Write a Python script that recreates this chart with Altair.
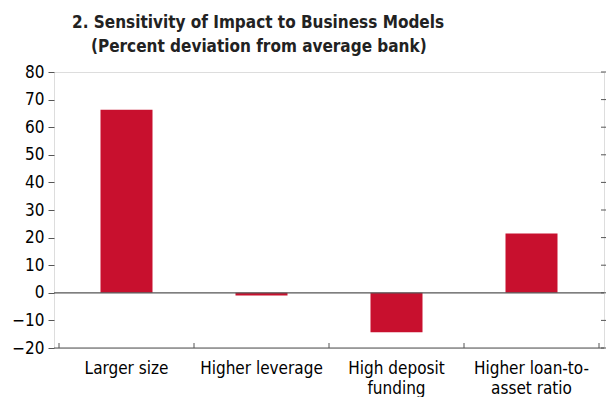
import altair as alt
import pandas as pd

categories = ["Larger size", "Higher leverage", "High deposit\nfunding", "Higher loan-to-\nasset ratio"]
values = [66.3, -1.0, -14.3, 21.5]
y_ticks = [-20, -10, 0, 10, 20, 30, 40, 50, 60, 70, 80]
boundaries = [0, 1, 2, 3, 4]
title_lines = ["2. Sensitivity of Impact to Business Models",
               "(Percent deviation from average bank)"]

FONT = "DejaVu Sans Condensed"
RED = "#C8102E"
GRAY = "#555555"
W, H = 550, 276

bars_df = pd.DataFrame({"pos": [i + 0.5 for i in range(len(categories))],
                        "cat": categories, "value": values})
bnd_df = pd.DataFrame({"b": boundaries})
ytick_df = pd.DataFrame({"t": y_ticks})

xscale = alt.Scale(domain=[0, 4], nice=False, zero=False)
yscale = alt.Scale(domain=[-20, 80], nice=False)
yaxis = alt.Axis(values=y_ticks, title=None, domain=False, grid=False,
                 labelOverlap=False, labelFlush=False,
                 tickSize=6, tickColor=GRAY, labelFontSize=17,
                 labelFont=FONT, labelColor="black", labelPadding=4)

bars = alt.Chart(bars_df).mark_bar(color=RED, size=52).encode(
    x=alt.X("pos:Q", scale=xscale, axis=None),
    y=alt.Y("value:Q", scale=yscale, axis=yaxis, title=None),
)

zero = alt.Chart(pd.DataFrame({"z": [0]})).mark_rule(color=GRAY, strokeWidth=1.2).encode(
    y=alt.Y("z:Q", scale=yscale, axis=yaxis, title=None), x=alt.value(0), x2=alt.value(W))

bottom = alt.Chart(pd.DataFrame({"z": [-20]})).mark_rule(color=GRAY, strokeWidth=1.2).encode(
    y=alt.Y("z:Q", scale=yscale, axis=yaxis, title=None), x=alt.value(0), x2=alt.value(W))

xticks = alt.Chart(bnd_df).mark_rule(color=GRAY, strokeWidth=1).encode(
    x=alt.X("b:Q", scale=xscale, axis=None), y=alt.value(H), y2=alt.value(H - 5))

rticks = alt.Chart(ytick_df).mark_rule(color=GRAY, strokeWidth=1).encode(
    y=alt.Y("t:Q", scale=yscale, axis=yaxis, title=None), x=alt.value(W - 3), x2=alt.value(W + 2))

labels = alt.Chart(bars_df).mark_text(
    font=FONT, fontSize=17, color="black", baseline="top", align="center",
    lineBreak="\n", lineHeight=20).encode(
    x=alt.X("pos:Q", scale=xscale, axis=None), y=alt.value(H + 13), text="cat:N")

t1 = alt.Chart(pd.DataFrame({"t": [title_lines[0]]})).mark_text(
    font=FONT, fontSize=17, fontWeight="bold", color="#222222",
    align="left", baseline="middle").encode(
    x=alt.value(18), y=alt.value(-49), text="t:N")

t2 = alt.Chart(pd.DataFrame({"t": [title_lines[1]]})).mark_text(
    font=FONT, fontSize=17, fontWeight="bold", color="#222222",
    align="left", baseline="middle").encode(
    x=alt.value(37), y=alt.value(-25), text="t:N")

chart = alt.layer(bars, zero, bottom, xticks, rticks, labels, t1, t2).properties(
    width=W, height=H,
    padding={"left": 3, "top": 6, "right": 0, "bottom": 0},
).configure_view(stroke=None).configure(background="white")

chart.save("out.html", embed_options={"renderer": "svg", "actions": False})
